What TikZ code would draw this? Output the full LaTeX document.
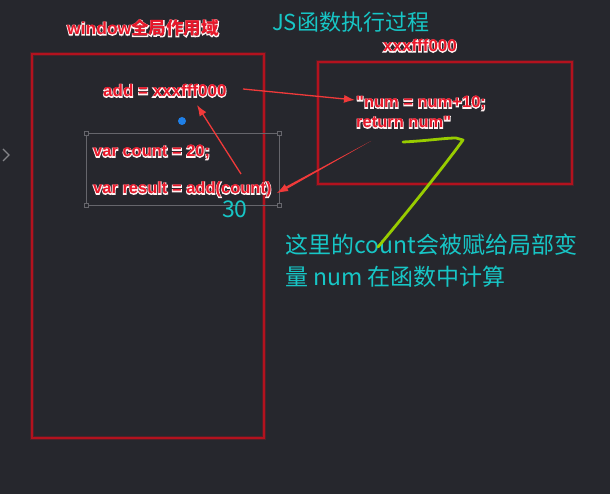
\documentclass[tikz,border=0pt]{standalone}
\usepackage{fontspec}
\setmainfont{Liberation Sans}
\newfontfamily\rawsans{Liberation Sans}
\newfontfamily\cjk{Noto Sans CJK SC}
\usetikzlibrary{arrows.meta}
\definecolor{bgc}{HTML}{26272D}
\definecolor{rectred}{HTML}{B3121E}
\definecolor{lblred}{HTML}{E8182A}
\definecolor{arrred}{HTML}{F03A3A}
\definecolor{cyanc}{HTML}{17C6C6}
\definecolor{limec}{HTML}{98CC00}
\definecolor{selgray}{HTML}{66666C}
\definecolor{dotblue}{HTML}{1F80E8}
\newcommand\hl[1]{\rlap{\special{pdf:literal direct 1 Tr 1.5 w 1 0.95 0.95 RG}#1\special{pdf:literal direct 0 Tr}}#1}
\newcommand\sq{{\rawsans\bfseries"}}
\tikzset{
  redlbl/.style={inner sep=0pt, text=lblred, font=\bfseries\fontsize{16.5}{18}\selectfont},
  cyanlbl/.style={inner sep=0pt, text=cyanc, font=\cjk\fontsize{23}{26}\selectfont},
  scopebox/.style={draw=rectred, line width=1.6pt},
  scopeglow/.style={draw=rectred, line width=4.5pt, opacity=0.3},
  arr/.style={draw=arrred, line width=1.3pt, -{Latex[length=11pt,width=8pt]}},
  handle/.style={draw=selgray, fill=bgc, line width=0.7pt, minimum size=4pt, inner sep=0pt},
}
\begin{document}
\begin{tikzpicture}[x=1pt,y=-1pt]
\fill[bgc] (0,0) rectangle (610,494);
\useasboundingbox (0,0) rectangle (610,494);

% scopes
\draw[scopeglow] (32,54) rectangle (264,438);
\draw[scopebox] (32,54) rectangle (264,438);
\draw[scopeglow] (318,62) rectangle (572,184);
\draw[scopebox] (318,62) rectangle (572,184);

% side chevron
\draw[selgray!80!white, line width=1.4pt] (3,149) -- (9,155) -- (3,161);

% selection box
\draw[selgray, line width=0.8pt] (86,133) rectangle (279,205);
\node[handle] (h1) at (86,133) {};
\node[handle] (h2) at (279,133) {};
\node[handle] (h3) at (86,205) {};
\node[handle] (h4) at (279,205) {};

% blue dot
\fill[dotblue] (182,121) circle (4);

% labels
\node[redlbl, anchor=base, font=\bfseries\fontsize{17.5}{19}\selectfont] (win) at (143,35) {\hl{window{\cjk\bfseries 全局作用域}}};
\node[redlbl, anchor=base west, font=\bfseries\fontsize{17}{19}\selectfont] (add) at (103,97) {\hl{add = xxxfff000}};
\node[redlbl, anchor=base west] (cnt) at (93,157) {\hl{var count = 20;}};
\node[redlbl, anchor=base west] (res) at (93,194) {\hl{var result = add(count)}};
\node[redlbl, anchor=base west, font=\bfseries\fontsize{17}{19}\selectfont] (addr) at (383,52) {\hl{xxxfff000}};
\node[redlbl, anchor=base west] (num1) at (356,108) {\hl{\sq num = num+10;}};
\node[redlbl, anchor=base west] (num2) at (356,128) {\hl{return num\sq}};

\node[cyanlbl, anchor=base west, font=\cjk\fontsize{22}{24}\selectfont] (title) at (272,31) {JS函数执行过程};
\node[cyanlbl, anchor=base west] (thirty) at (222,218) {30};
\node[cyanlbl, anchor=base west] (note1) at (285,254) {这里的count会被赋给局部变};
\node[cyanlbl, anchor=base west] (note2) at (285,285) {量 num 在函数中计算};

% arrows
\coordinate (a1s) at (243,89);
\coordinate (a1e) at (355,100);
\draw[arr] (a1s) -- (a1e);
\coordinate (a2s) at (241,174);
\coordinate (a2e) at (197,105);
\draw[arr] (a2s) -- (a2e);
\coordinate (a3s) at (371,141);
\coordinate (a3b) at (284,189.1);
\coordinate (a3e) at (277,193);
\fill[arrred] (a3s) -- (284.7,190.2) -- (283.3,188.0) -- cycle;
\draw[arr, line width=0.8pt] (a3b) -- (a3e);

% green scribble
\draw[limec, line width=2.8pt, line cap=round, line join=round]
  (403,142) .. controls (425,141) and (445,138) .. (456,138) -- (463,140)
  .. controls (445,165) and (405,215) .. (378,247);
\end{tikzpicture}
\end{document}
